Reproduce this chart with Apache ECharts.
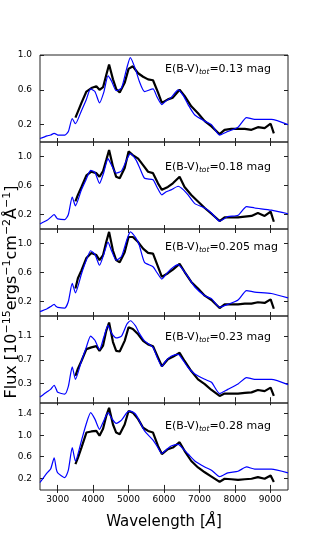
<!DOCTYPE html>
<html><head><meta charset="utf-8">
<script src="https://cdn.jsdelivr.net/npm/echarts@6/dist/echarts.min.js"></script>
<style>html,body{margin:0;padding:0;background:#fff}#c{width:320px;height:560px}</style>
</head><body><div id="c"></div>
<script>
// ---- data ----
const xTicks = [3000, 4000, 5000, 6000, 7000, 8000, 9000];
const ebvLabels = ['0.13', '0.18', '0.205', '0.23', '0.28'];
const yTicks1 = [0.2, 0.6, 1.0];
const yTicks2 = [0.2, 0.6, 1.0];
const yTicks3 = [0.2, 0.6, 1.0];
const yTicks4 = [0.3, 0.7, 1.1];
const yTicks5 = [0.2, 0.6, 1.0, 1.4];

// model (blue) wavelength grid
const modelWave = [2500, 2700, 2800, 2900, 2960, 3000, 3200, 3300, 3410, 3500, 3670, 3800, 3930, 4050, 4180, 4300, 4420, 4520, 4650, 4800, 4950, 5050, 5200, 5300, 5450, 5690, 5800, 5940, 6050, 6200, 6400, 6550, 6680, 6870, 7150, 7340, 7570, 7800, 8090, 8330, 8560, 9030, 9500];
const model1 = [0.04, 0.07, 0.08, 0.1, 0.09, 0.08, 0.08, 0.12, 0.27, 0.21, 0.36, 0.48, 0.61, 0.58, 0.45, 0.57, 0.76, 0.7, 0.59, 0.62, 0.85, 0.97, 0.83, 0.7, 0.58, 0.61, 0.52, 0.43, 0.47, 0.51, 0.6, 0.53, 0.43, 0.31, 0.24, 0.2, 0.08, 0.12, 0.17, 0.28, 0.26, 0.26, 0.2];
const model2 = [0.07, 0.12, 0.16, 0.2, 0.16, 0.14, 0.13, 0.2, 0.44, 0.32, 0.54, 0.68, 0.81, 0.78, 0.63, 0.78, 0.97, 0.88, 0.77, 0.8, 0.96, 1.04, 0.96, 0.86, 0.7, 0.68, 0.58, 0.47, 0.51, 0.54, 0.59, 0.54, 0.47, 0.35, 0.29, 0.22, 0.11, 0.17, 0.19, 0.31, 0.29, 0.26, 0.21];
const model3 = [0.06, 0.1, 0.13, 0.16, 0.13, 0.12, 0.11, 0.2, 0.45, 0.32, 0.58, 0.76, 0.9, 0.85, 0.7, 0.85, 1.02, 0.9, 0.77, 0.82, 1.05, 1.16, 1.08, 0.98, 0.74, 0.68, 0.6, 0.51, 0.57, 0.65, 0.71, 0.63, 0.54, 0.4, 0.28, 0.24, 0.12, 0.16, 0.22, 0.35, 0.33, 0.31, 0.25];
const model4 = [0.07, 0.16, 0.2, 0.27, 0.2, 0.15, 0.12, 0.25, 0.58, 0.37, 0.68, 0.9, 1.1, 1.03, 0.87, 1.08, 1.28, 1.15, 1.07, 1.1, 1.3, 1.36, 1.27, 1.15, 1.02, 0.91, 0.75, 0.59, 0.68, 0.76, 0.79, 0.68, 0.57, 0.46, 0.37, 0.32, 0.13, 0.2, 0.29, 0.4, 0.37, 0.37, 0.28];
const model5 = [0.12, 0.3, 0.37, 0.58, 0.37, 0.3, 0.21, 0.35, 0.77, 0.52, 0.9, 1.2, 1.42, 1.3, 1.11, 1.27, 1.42, 1.32, 1.22, 1.28, 1.42, 1.45, 1.39, 1.27, 1.08, 0.91, 0.8, 0.66, 0.72, 0.8, 0.83, 0.74, 0.65, 0.52, 0.41, 0.35, 0.23, 0.3, 0.33, 0.41, 0.37, 0.37, 0.3];

// observed (black) wavelength grid
const obsWave = [3500, 3570, 3670, 3810, 3950, 4090, 4180, 4280, 4370, 4450, 4560, 4650, 4750, 4890, 5000, 5120, 5270, 5410, 5550, 5690, 5830, 5940, 6110, 6250, 6440, 6580, 6770, 6960, 7150, 7340, 7570, 7710, 7900, 8090, 8280, 8470, 8650, 8840, 9010, 9100];
const obs1 = [0.28, 0.35, 0.45, 0.58, 0.62, 0.64, 0.6, 0.63, 0.77, 0.89, 0.72, 0.61, 0.57, 0.68, 0.84, 0.87, 0.79, 0.75, 0.72, 0.71, 0.57, 0.45, 0.49, 0.51, 0.6, 0.53, 0.41, 0.33, 0.24, 0.18, 0.09, 0.14, 0.15, 0.15, 0.15, 0.14, 0.17, 0.16, 0.21, 0.1];
const obs2 = [0.38, 0.47, 0.58, 0.74, 0.79, 0.77, 0.72, 0.8, 0.95, 1.09, 0.86, 0.72, 0.7, 0.84, 1.07, 1.02, 0.97, 0.88, 0.79, 0.77, 0.63, 0.54, 0.58, 0.63, 0.72, 0.58, 0.47, 0.38, 0.29, 0.21, 0.11, 0.16, 0.16, 0.16, 0.17, 0.18, 0.22, 0.18, 0.24, 0.1];
const obs3 = [0.38, 0.52, 0.63, 0.8, 0.87, 0.84, 0.77, 0.84, 1.02, 1.16, 0.9, 0.77, 0.74, 0.88, 1.09, 1.09, 1.02, 0.93, 0.87, 0.86, 0.68, 0.54, 0.59, 0.64, 0.72, 0.61, 0.47, 0.38, 0.28, 0.22, 0.11, 0.16, 0.16, 0.16, 0.17, 0.17, 0.19, 0.18, 0.23, 0.1];
const obs4 = [0.43, 0.55, 0.68, 0.88, 0.91, 0.93, 0.85, 0.94, 1.19, 1.33, 1.0, 0.85, 0.84, 1.02, 1.25, 1.22, 1.13, 1.02, 0.96, 0.93, 0.74, 0.59, 0.71, 0.75, 0.82, 0.68, 0.51, 0.37, 0.29, 0.19, 0.09, 0.13, 0.13, 0.13, 0.14, 0.15, 0.19, 0.17, 0.23, 0.09];
const obs5 = [0.46, 0.58, 0.77, 1.05, 1.07, 1.08, 0.99, 1.12, 1.36, 1.51, 1.2, 1.05, 1.02, 1.2, 1.45, 1.42, 1.3, 1.14, 1.08, 1.05, 0.8, 0.65, 0.74, 0.77, 0.87, 0.71, 0.52, 0.4, 0.31, 0.23, 0.13, 0.19, 0.18, 0.17, 0.18, 0.19, 0.22, 0.19, 0.25, 0.13];

// ---- layout ----
const models = [model1, model2, model3, model4, model5];
const obs = [obs1, obs2, obs3, obs4, obs5];
const yTicks = [yTicks1, yTicks2, yTicks3, yTicks4, yTicks5];
const yMin = [0, 0, 0, -0.03, -0.02];
const yMax = [1.0, 1.2, 1.2, 1.44, 1.6];
const tops = [55, 142, 229, 316, 403];
const labelY = [69, 167, 247, 337, 426];
const FONT = 'DejaVu Sans';
const frame = '#222';

const grid = [], xAxis = [], yAxis = [], series = [], graphic = [];
for (let i = 0; i < 5; i++) {
  grid.push({left: 40, top: tops[i], width: 248, height: 87, show: true, borderColor: frame, borderWidth: 1});
  const xa = (pos, lab) => ({
    gridIndex: i, type: 'value', min: 2500, max: 9500, position: pos,
    axisLine: {show: false}, splitLine: {show: false},
    axisTick: {show: true, inside: true, length: 4, customValues: xTicks, lineStyle: {color: frame, width: 1}},
    axisLabel: {show: lab, customValues: xTicks, fontSize: 9, color: '#000', fontFamily: FONT, margin: 5,
      formatter: v => String(Math.round(v))}
  });
  xAxis.push(xa('bottom', i === 4), xa('top', false));
  const ya = (pos, lab) => ({
    gridIndex: i, type: 'value', min: yMin[i], max: yMax[i], position: pos,
    axisLine: {show: false}, splitLine: {show: false},
    axisTick: {show: true, inside: true, length: 4, customValues: yTicks[i], lineStyle: {color: frame, width: 1}},
    axisLabel: {show: lab, customValues: yTicks[i], fontSize: 9, color: '#000', fontFamily: FONT, margin: 8,
      formatter: v => Number(v).toFixed(1)}
  });
  yAxis.push(ya('left', true), ya('right', false));
  series.push({
    type: 'line', xAxisIndex: 2 * i, yAxisIndex: 2 * i, showSymbol: false, animation: false,
    data: obsWave.map((w, k) => [w, obs[i][k]]),
    lineStyle: {color: '#000', width: 2.2}, itemStyle: {color: '#000'}, z: 2
  });
  series.push({
    type: 'line', xAxisIndex: 2 * i, yAxisIndex: 2 * i, showSymbol: false, animation: false, smooth: 0.2,
    data: modelWave.map((w, k) => [w, models[i][k]]),
    lineStyle: {color: '#0000ff', width: 1.2}, itemStyle: {color: '#0000ff'}, z: 3
  });
  graphic.push({
    type: 'text', x: 165, y: labelY[i], z: 10,
    style: {
      text: '{a|E(B-V)}{s|tot}{a|=' + ebvLabels[i] + ' mag}',
      verticalAlign: 'middle',
      rich: {
        a: {fontSize: 11, fontFamily: FONT, fill: '#000', lineHeight: 14},
        s: {fontSize: 7.5, fontFamily: FONT, fontStyle: 'italic', fill: '#000', verticalAlign: 'bottom', lineHeight: 14}
      }
    }
  });
}
graphic.push({
  type: 'text', x: 164, y: 522, z: 10,
  style: {
    text: '{a|Wavelength [}{i|Å}{a|]}', align: 'center', verticalAlign: 'middle',
    rich: {a: {fontSize: 15, fontFamily: FONT, fill: '#000'}, i: {fontSize: 15, fontFamily: FONT, fontStyle: 'italic', fill: '#000'}}
  }
});
graphic.push({
  type: 'text', x: 12, y: 292, rotation: Math.PI / 2, z: 10,
  style: {
    text: '{m|Flux [10}{u|−15}{m|ergs}{u|−1}{m|cm}{u|−2}{m|Å}{u|−1}{m|]}', align: 'center', verticalAlign: 'middle',
    rich: {
      m: {fontSize: 16, fontFamily: FONT, fill: '#000', lineHeight: 21},
      u: {fontSize: 11, fontFamily: FONT, fill: '#000', verticalAlign: 'top', lineHeight: 21}
    }
  }
});

const chart = echarts.init(document.getElementById('c'), null, {renderer: 'canvas'});
chart.setOption({animation: false, backgroundColor: '#fff', grid, xAxis, yAxis, series, graphic});
</script></body></html>
